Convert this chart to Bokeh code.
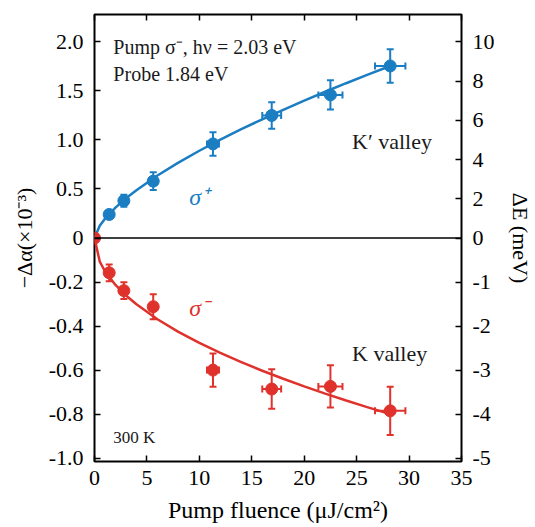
from bokeh.plotting import figure
from bokeh.models import (Range1d, LinearAxis, FixedTicker, CustomJSTickFormatter,
                          BasicTickFormatter, Label, ColumnDataSource, Whisker, TeeHead, Span)
from bokeh.embed import file_html
from bokeh.resources import INLINE

# ---------------- data ----------------
fluence = [1.4, 2.8, 5.6, 11.3, 16.9, 22.5, 28.2]
fluence_err = [0.07, 0.14, 0.28, 0.57, 0.9, 1.15, 1.45]
alpha_plus = [0.24, 0.38, 0.58, 0.96, 1.25, 1.46, 1.755]
alpha_plus_err = [0.035, 0.06, 0.09, 0.12, 0.135, 0.15, 0.17]
alpha_minus = [-0.158, -0.239, -0.312, -0.60, -0.686, -0.674, -0.785]
alpha_minus_err = [0.038, 0.038, 0.057, 0.076, 0.09, 0.096, 0.11]
origin_x = [0.0]
origin_y = [0.0]
fit_x = [0, 0.5, 1, 2, 3, 4, 6, 8, 10, 12, 14, 16, 18, 20, 22, 24, 26, 28.2]
fit_plus = [0, 0.125, 0.197, 0.310, 0.405, 0.488, 0.637, 0.769, 0.890, 1.003,
            1.110, 1.211, 1.308, 1.402, 1.492, 1.579, 1.664, 1.755]
fit_minus = [0, -0.107, -0.151, -0.213, -0.261, -0.301, -0.369, -0.426, -0.476,
             -0.522, -0.564, -0.603, -0.639, -0.674, -0.707, -0.738, -0.768, -0.80]
x_ticks = [0, 5, 10, 15, 20, 25, 30, 35]
alpha_ticks_pos = [0.5, 1.0, 1.5, 2.0]
alpha_ticks_neg = [-1.0, -0.8, -0.6, -0.4, -0.2, 0]
dE_ticks_pos = [2, 4, 6, 8, 10]
dE_ticks_neg = [-5, -4, -3, -2, -1, 0]

# The original y axis has a different scale above and below zero:
# the upper half spans 0 .. 2.28 and the lower half 0 .. -1.015 over the same height.
POS_LIM = 2.28
NEG_LIM = 1.015
DE_POS_LIM = 11.4
DE_NEG_LIM = 5.075

FONT = "Liberation Serif"
BLUE = "#1b7dc2"
RED = "#e0322c"
TXT = "#1a1a1a"
TICK_FS = "22px"

p = figure(width=535, height=527, x_range=Range1d(0, 35),
           y_range=Range1d(-NEG_LIM, NEG_LIM), output_backend="svg", toolbar_location=None,
           min_border_left=94, min_border_right=69, min_border_top=14, min_border_bottom=66)
p.extra_y_ranges = {"pos": Range1d(-POS_LIM, POS_LIM), "dE": Range1d(-DE_NEG_LIM, DE_NEG_LIM)}
p.grid.visible = False
p.outline_line_color = "black"
p.outline_line_width = 2
p.background_fill_color = "white"
p.border_fill_color = "white"


def style_axis(ax, size=TICK_FS, standoff=11):
    ax.axis_line_color = None
    ax.major_tick_in = 6
    ax.major_tick_out = 0
    ax.minor_tick_line_color = None
    ax.major_tick_line_color = "black"
    ax.major_tick_line_width = 1.5
    ax.major_label_text_font = FONT
    ax.major_label_text_font_size = size
    ax.major_label_text_color = "black"
    ax.major_label_standoff = standoff
    ax.axis_label_text_font = FONT
    ax.axis_label_text_font_style = "normal"
    ax.axis_label_text_color = "black"


# bottom x axis
bax = p.xaxis[0]
style_axis(bax, standoff=9)
bax.ticker = FixedTicker(ticks=x_ticks)
bax.formatter = BasicTickFormatter()
bax.axis_label = "Pump fluence (μJ/cm²)"
bax.axis_label_text_font_size = "24px"
bax.axis_label_standoff = 9

# top ticks only
tax = LinearAxis(ticker=FixedTicker(ticks=x_ticks))
style_axis(tax, size="1px", standoff=0)
tax.major_label_text_color = None
p.add_layout(tax, "above")

# left axis: lower half in its own units, upper half mapped from the "pos" range
lax = p.yaxis[0]
style_axis(lax)
lax.ticker = FixedTicker(ticks=alpha_ticks_neg + [v * NEG_LIM / POS_LIM for v in alpha_ticks_pos])
lax.formatter = CustomJSTickFormatter(args=dict(k=POS_LIM / NEG_LIM), code="""
    if (Math.abs(tick) < 1e-9) { return "0"; }
    const v = tick > 0 ? tick * k : tick;
    return v.toFixed(1);
""")
lax.axis_label = "−Δα(×10⁻³)"
lax.axis_label_text_font_size = "22px"
lax.axis_label_standoff = 9

# right axis: energy shift
rax = LinearAxis(y_range_name="dE",
                 ticker=FixedTicker(ticks=dE_ticks_neg + [v * DE_NEG_LIM / DE_POS_LIM for v in dE_ticks_pos]))
style_axis(rax)
rax.formatter = CustomJSTickFormatter(args=dict(k=DE_POS_LIM / DE_NEG_LIM), code="""
    const v = tick > 0 ? tick * k : tick;
    return String(Math.round(v));
""")
rax.axis_label = "ΔE (meV)"
rax.axis_label_text_font_size = "22px"
rax.axis_label_standoff = 10
p.add_layout(rax, "right")

# zero line
p.add_layout(Span(location=0, dimension="width", line_color="black", line_width=1.5))


def add_series(xs, ys, yerr, color, fx, fy, rname):
    src = ColumnDataSource(dict(
        x=xs, y=ys,
        yl=[a - e for a, e in zip(ys, yerr)], yu=[a + e for a, e in zip(ys, yerr)],
        xl=[a - e for a, e in zip(xs, fluence_err)], xu=[a + e for a, e in zip(xs, fluence_err)],
    ))
    p.line(fx, fy, line_color=color, line_width=2.5, y_range_name=rname)
    for dim, base, lo, hi in (("height", "x", "yl", "yu"), ("width", "y", "xl", "xu")):
        p.add_layout(Whisker(source=src, base=base, lower=lo, upper=hi, dimension=dim,
                             line_color=color, line_width=2, y_range_name=rname,
                             lower_head=TeeHead(size=7, line_color=color, line_width=2),
                             upper_head=TeeHead(size=7, line_color=color, line_width=2)))
    p.scatter("x", "y", source=src, size=12, color=color, y_range_name=rname)


add_series(fluence, alpha_plus, alpha_plus_err, BLUE, fit_x, fit_plus, "pos")
add_series(fluence, alpha_minus, alpha_minus_err, RED, fit_x, fit_minus, "default")
p.scatter(origin_x, origin_y, size=12, color=RED)


def note(x, y, text, size, rname="default", color=TXT, style="normal"):
    p.add_layout(Label(x=x, y=y, text=text, text_font=FONT, text_font_size=size,
                       text_font_style=style, text_color=color, text_baseline="alphabetic",
                       y_range_name=rname))


note(1.8, 1.947, "Pump σ⁻, hν = 2.03 eV", "20px", "pos")
note(1.8, 1.669, "Probe 1.84 eV", "20px", "pos")
note(24.56, 0.98, "K′ valley", "22px", "pos")
note(9.03, 0.42, "σ⁺", "24px", "pos", BLUE, "italic")
note(9.03, -0.319, "σ⁻", "24px", "default", RED, "italic")
note(24.56, -0.523, "K valley", "22px")
note(1.8, -0.906, "300 K", "17px")

open("out.html", "w").write(file_html(p, INLINE))
